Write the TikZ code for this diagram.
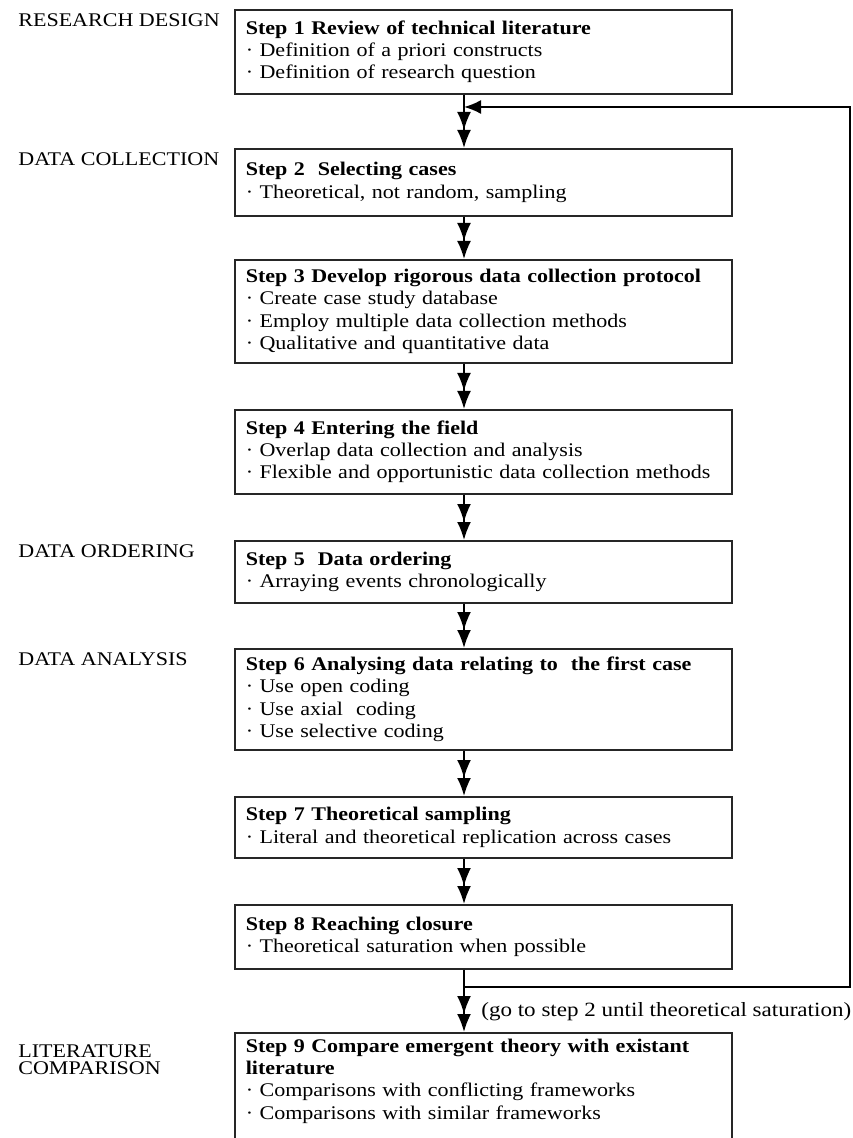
\documentclass[tikz,border=0pt]{standalone}
\usepackage{fontspec}
\setmainfont{Liberation Serif}[FakeStretch=1.14]
\usetikzlibrary{positioning,arrows.meta}

\begin{document}
\begin{tikzpicture}[
    font=\fontsize{11}{12.75}\selectfont,
    phase/.style={
        anchor=base west,
        align=left,
        inner sep=0pt,
        font=\fontsize{11}{9.5}\selectfont
    },
    stepbox/.style={
        rectangle,
        draw=black!85,
        line width=0.9pt,
        anchor=north west,
        minimum width=9.94cm,
        text width=9.5cm,
        inner xsep=0.22cm,
        align=left
    },
    flow/.style={
        line width=1.1pt,
        -{Latex[length=3.6mm,width=2.8mm] Latex[length=3.6mm,width=2.8mm]}
    },
    loopback/.style={
        line width=1.1pt,
        -{Latex[length=3.4mm,width=2.8mm]}
    }
]
    \useasboundingbox (0,0) rectangle (17.04,-22.76);
    \clip (0,0) rectangle (17.04,-22.76);

    % --- PHASES ---
    \node [phase] (design) at (0.36,-0.54) {RESEARCH DESIGN};
    \node [phase] (collection) at (0.36,-3.31) {DATA COLLECTION};
    \node [phase] (ordering) at (0.36,-11.15) {DATA ORDERING};
    \node [phase] (analysis) at (0.36,-13.31) {DATA ANALYSIS};
    \node [phase] (comparison) at (0.36,-21.48) {LITERATURE\\COMPARISON};

    % --- STEPS ---
    \node [stepbox, minimum height=1.68cm] (s1) at (4.68,-0.18) {\textbf{Step 1 Review of technical literature}\\ · Definition of a priori constructs\\ · Definition of research question};
    \node [stepbox, minimum height=1.34cm] (s2) at (4.68,-2.96) {\textbf{Step 2 \ Selecting cases}\\ · Theoretical, not random, sampling};
    \node [stepbox, minimum height=2.06cm] (s3) at (4.68,-5.18) {\textbf{Step 3 Develop rigorous data collection protocol}\\ · Create case study database\\ · Employ multiple data collection methods\\ · Qualitative and quantitative data};
    \node [stepbox, minimum height=1.68cm] (s4) at (4.68,-8.18) {\textbf{Step 4 Entering the field}\\ · Overlap data collection and analysis\\ \mbox{· Flexible and opportunistic data collection methods}};
    \node [stepbox, minimum height=1.24cm] (s5) at (4.68,-10.80) {\textbf{Step 5 \ Data ordering}\\ · Arraying events chronologically};
    \node [stepbox, minimum height=2.02cm] (s6) at (4.68,-12.96) {\textbf{Step 6 Analysing data relating to \ the first case}\\ · Use open coding\\ · Use axial \ coding\\ · Use selective coding};
    \node [stepbox, minimum height=1.22cm] (s7) at (4.68,-15.92) {\textbf{Step 7 Theoretical sampling}\\ · Literal and theoretical replication across cases};
    \node [stepbox, minimum height=1.28cm] (s8) at (4.68,-18.08) {\textbf{Step 8 Reaching closure}\\ · Theoretical saturation when possible};
    \node [stepbox, text depth=1.9cm] (s9) at (4.68,-20.64) {\textbf{Step 9 Compare emergent theory with existant}\\ \textbf{literature}\\ · Comparisons with conflicting frameworks\\ · Comparisons with similar frameworks};

    % --- ARROWS ---
    \coordinate (spine) at (9.28,0);
    \draw [flow] (s1.south -| spine) -- (s2.north -| spine);
    \draw [flow] (s2.south -| spine) -- (s3.north -| spine);
    \draw [flow] (s3.south -| spine) -- (s4.north -| spine);
    \draw [flow] (s4.south -| spine) -- (s5.north -| spine);
    \draw [flow] (s5.south -| spine) -- (s6.north -| spine);
    \draw [flow] (s6.south -| spine) -- (s7.north -| spine);
    \draw [flow] (s7.south -| spine) -- (s8.north -| spine);
    \draw [flow] (s8.south -| spine) -- (s9.north -| spine);

    % Loop back to step 2
    \coordinate (fbout) at (9.28,-19.74);
    \coordinate (fbright) at (17.0,-19.74);
    \coordinate (fbin) at (9.28,-2.14);
    \draw [loopback] (fbout) -- (fbright) |- (fbin);
    \node [anchor=base west, inner sep=0pt, font=\fontsize{11.5}{13}\selectfont] (fbnote) at (9.62,-20.32) {(go to step 2 until theoretical saturation)};

\end{tikzpicture}
\end{document}
